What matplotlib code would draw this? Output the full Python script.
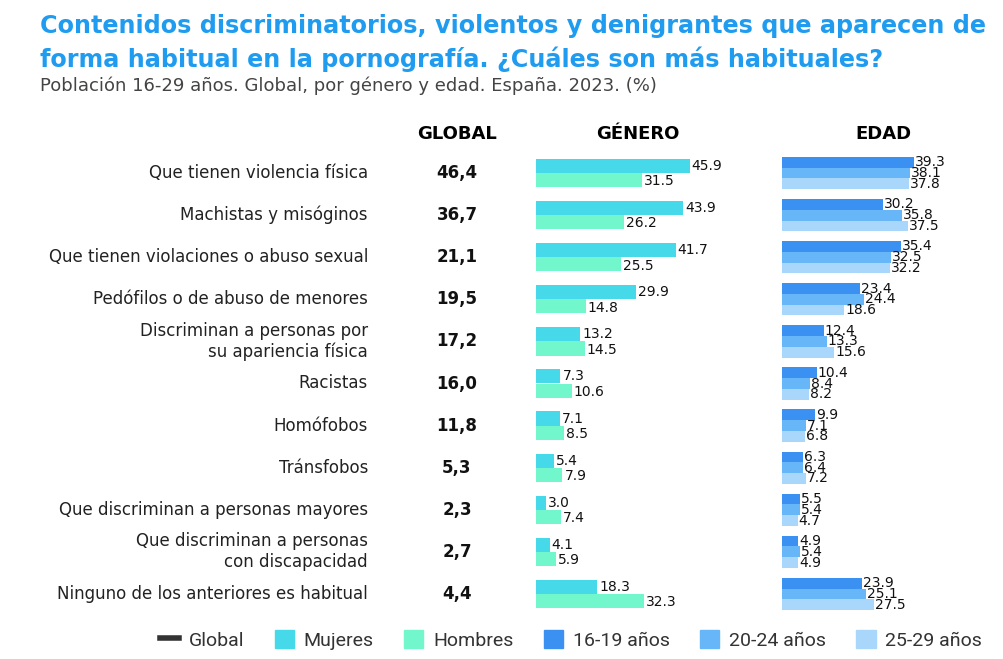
import matplotlib
matplotlib.use('Agg')
import matplotlib.pyplot as plt
import matplotlib.transforms as mtransforms
from matplotlib.patches import Patch
from matplotlib.lines import Line2D

categorias = [
    "Que tienen violencia física",
    "Machistas y misóginos",
    "Que tienen violaciones o abuso sexual",
    "Pedófilos o de abuso de menores",
    "Discriminan a personas por\nsu apariencia física",
    "Racistas",
    "Homófobos",
    "Tránsfobos",
    "Que discriminan a personas mayores",
    "Que discriminan a personas\ncon discapacidad",
    "Ninguno de los anteriores es habitual",
]
global_vals = ["46,4", "36,7", "21,1", "19,5", "17,2", "16,0", "11,8", "5,3", "2,3", "2,7", "4,4"]
mujeres = [45.9, 43.9, 41.7, 29.9, 13.2, 7.3, 7.1, 5.4, 3.0, 4.1, 18.3]
hombres = [31.5, 26.2, 25.5, 14.8, 14.5, 10.6, 8.5, 7.9, 7.4, 5.9, 32.3]
edad_16_19 = [39.3, 30.2, 35.4, 23.4, 12.4, 10.4, 9.9, 6.3, 5.5, 4.9, 23.9]
edad_20_24 = [38.1, 35.8, 32.5, 24.4, 13.3, 8.4, 7.1, 6.4, 5.4, 5.4, 25.1]
edad_25_29 = [37.8, 37.5, 32.2, 18.6, 15.6, 8.2, 6.8, 7.2, 4.7, 4.9, 27.5]

C_MUJ = "#45d9ea"
C_HOM = "#72f7cc"
C_E1 = "#3a91f2"
C_E2 = "#66b6f8"
C_E3 = "#a8d7fb"
C_TITLE = "#1f9cf0"

plt.rcParams['font.family'] = ['DejaVu Sans']

W, H = 1004, 659
fig = plt.figure(figsize=(W / 100, H / 100), dpi=100)

top = 1 - 152 / H
bot = 1 - 615 / H
scale = 3.35  # px per unit
xmax = 50
ax_g = fig.add_axes([536 / W, bot, scale * xmax / W, top - bot])
ax_e = fig.add_axes([782 / W, bot, scale * xmax / W, top - bot])

n = len(categorias)
y = list(range(n))

hg = 0.335
ax_g.barh([v - hg / 2 for v in y], mujeres, height=hg, color=C_MUJ)
ax_g.barh([v + hg / 2 for v in y], hombres, height=hg, color=C_HOM)
for i in y:
    ax_g.text(mujeres[i] + 0.6, i - hg / 2, f"{mujeres[i]:.1f}", va='center', ha='left',
              fontsize=10, color='#111111', clip_on=False)
    ax_g.text(hombres[i] + 0.6, i + hg / 2 + 0.03, f"{hombres[i]:.1f}", va='center', ha='left',
              fontsize=10, color='#111111', clip_on=False)

he = 0.255
for off, vals, col in [(-he, edad_16_19, C_E1), (0, edad_20_24, C_E2), (he, edad_25_29, C_E3)]:
    ax_e.barh([v + off for v in y], vals, height=he, color=col)
    for i in y:
        ax_e.text(vals[i] + 0.3, i + off, f"{vals[i]:.1f}", va='center', ha='left',
                  fontsize=10, color='#111111', clip_on=False)

for ax in (ax_g, ax_e):
    ax.set_xlim(0, xmax)
    ax.set_ylim(n - 0.5, -0.5)
    ax.axis('off')

tr = mtransforms.blended_transform_factory(fig.transFigure, ax_g.transData)
for i, (c, g) in enumerate(zip(categorias, global_vals)):
    fig.text(368 / W, i, c, transform=tr, ha='right', va='center', fontsize=12,
             color='#222222', linespacing=1.2)
    fig.text(457 / W, i, g, transform=tr, ha='center', va='center', fontsize=12,
             fontweight='bold', color='#111111')

hy = 1 - 134 / H
fig.text(457 / W, hy, "GLOBAL", ha='center', va='center', fontsize=13, fontweight='bold')
fig.text(638 / W, hy, "GÉNERO", ha='center', va='center', fontsize=13, fontweight='bold')
fig.text(883 / W, hy, "EDAD", ha='center', va='center', fontsize=13, fontweight='bold')

fig.text(40 / W, 1 - 26 / H, "Contenidos discriminatorios, violentos y denigrantes que aparecen de",
         ha='left', va='center', fontsize=17.2, fontweight='bold', color=C_TITLE)
fig.text(40 / W, 1 - 59 / H, "forma habitual en la pornografía. ¿Cuáles son más habituales?",
         ha='left', va='center', fontsize=17.2, fontweight='bold', color=C_TITLE)
fig.text(40 / W, 1 - 86 / H, "Población 16-29 años. Global, por género y edad. España. 2023. (%)",
         ha='left', va='center', fontsize=13, color='#444444')

handles = [
    Line2D([], [], color='#333333', lw=4),
    Patch(color=C_MUJ), Patch(color=C_HOM),
    Patch(color=C_E1), Patch(color=C_E2), Patch(color=C_E3),
]
labels = ["Global", "Mujeres", "Hombres", "16-19 años", "20-24 años", "25-29 años"]
fig.legend(handles, labels, loc='center', bbox_to_anchor=(571 / W, 1 - 640 / H), ncol=6,
           frameon=False, prop={'family': 'Roboto', 'size': 14}, handlelength=1.0,
           handleheight=1.0, handletextpad=0.5, columnspacing=1.55, labelcolor='#333333')

fig.savefig("out.png", dpi=100)
